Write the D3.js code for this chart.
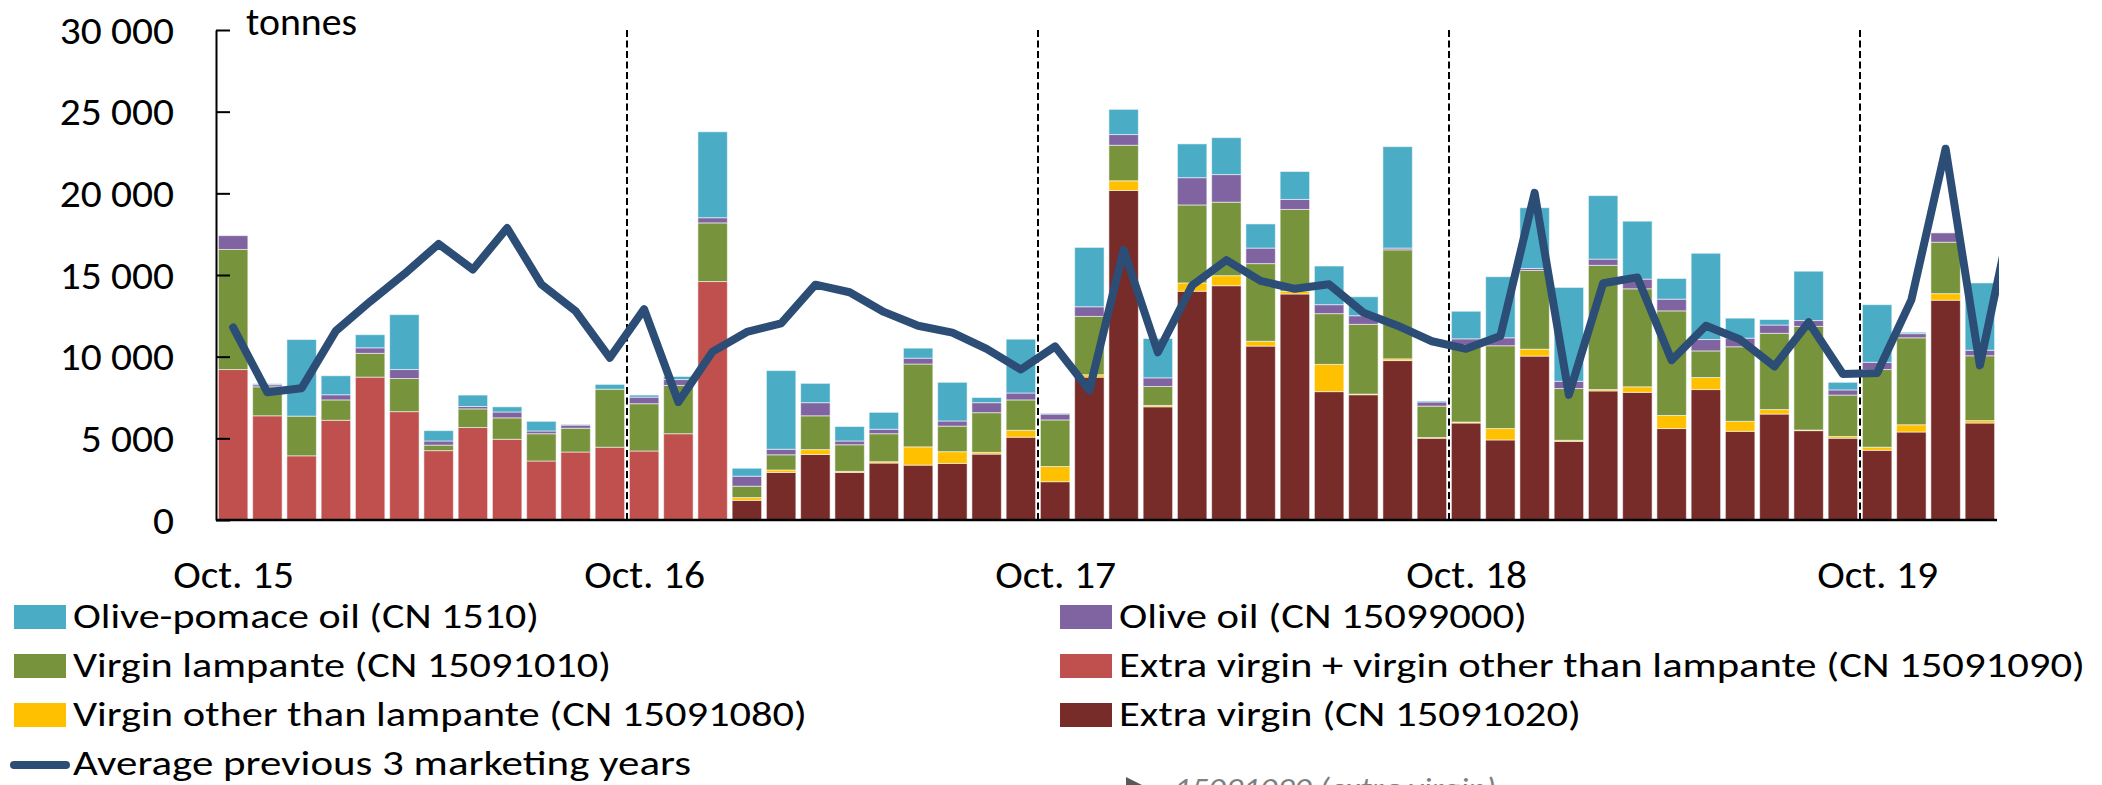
<!DOCTYPE html>
<html>
<head>
<meta charset="utf-8">
<script src="https://cdn.jsdelivr.net/npm/d3@7"></script>
<style>
  html, body { margin: 0; padding: 0; background: #fff; }
  svg { display: block; }
  text { font-family: Carlito, Lato, "Open Sans", sans-serif; fill: #000; }
</style>
</head>
<body>
<svg id="chart" width="2102" height="785"></svg>
<script>
// ---- Data (tonnes per month) ----
const months = [
  "Oct 15","Nov 15","Dec 15","Jan 16","Feb 16","Mar 16","Apr 16","May 16","Jun 16","Jul 16","Aug 16","Sep 16",
  "Oct 16","Nov 16","Dec 16","Jan 17","Feb 17","Mar 17","Apr 17","May 17","Jun 17","Jul 17","Aug 17","Sep 17",
  "Oct 17","Nov 17","Dec 17","Jan 18","Feb 18","Mar 18","Apr 18","May 18","Jun 18","Jul 18","Aug 18","Sep 18",
  "Oct 18","Nov 18","Dec 18","Jan 19","Feb 19","Mar 19","Apr 19","May 19","Jun 19","Jul 19","Aug 19","Sep 19",
  "Oct 19","Nov 19","Dec 19","Jan 20","Feb 20"
];

// Extra virgin + virgin other than lampante (CN 15091090)
const cn15091090 = [
  9211,6380,3930,6106,8747,6634,4247,5662,4944,3613,4162,4458,
  4225,5282,14599,0,0,0,0,0,0,0,0,0,
  0,0,0,0,0,0,0,0,0,0,0,0,
  0,0,0,0,0,0,0,0,0,0,0,0,
  0,0,0,0
];
// Extra virgin (CN 15091020)
const cn15091020 = [
  0,0,0,0,0,0,0,0,0,0,0,0,
  0,0,0,1204,2915,4014,2915,3486,3359,3465,4035,5070,
  2345,8747,20176,6930,14007,14345,10648,13838,7859,7669,9761,5007,
  5937,4901,10035,4817,7902,7817,5599,7986,5430,6486,5472,5007,
  4268,5387,13458,5937
];
// Virgin other than lampante (CN 15091080)
const cn15091080 = [
  0,0,0,0,0,0,0,0,0,0,0,0,
  0,0,0,169,148,296,64,84,1120,718,106,423,
  930,147,592,84,507,613,296,169,1669,42,105,43,
  63,698,423,63,84,338,802,739,612,275,38,106,
  190,444,401,148
];
// Virgin lampante (CN 15091010)
const cn15091010 = [
  7353,1775,2429,1246,1457,2028,338,1141,1310,1669,1458,3549,
  2895,2958,3591,697,930,2070,1627,1712,5070,1564,2429,1859,
  2852,3571,2176,1162,4775,4500,4753,5007,3106,4268,6676,1922,
  4733,5070,4817,3169,7606,6000,6402,1627,4564,4669,6342,2535,
  4753,5324,3148,3971
];
// Olive oil (CN 15099000)
const cn15099000 = [
  845,127,0,317,338,549,253,148,359,169,190,0,
  401,359,317,613,338,803,232,274,360,316,613,423,
  359,591,655,528,1669,1690,951,613,549,528,106,253,
  359,486,127,444,380,592,718,697,528,507,359,317,
  444,254,571,338
];
// Olive-pomace oil (CN 1510)
const cn1510 = [
  0,63,4690,1162,803,3360,634,697,317,591,40,296,
  127,190,5261,486,4817,1183,887,1036,612,2367,317,3296,
  44,3634,1542,2409,2070,2261,1479,1711,2366,1162,6211,64,
  1690,3740,3718,5747,3887,3549,1268,5282,1225,338,3022,465,
  3528,84,0,4120
];
// Average previous 3 marketing years
const avgPrev3 = [
  11789,7817,8071,11578,13373,15064,16902,15338,17873,14430,12782,9930,
  12909,7225,10310,11514,12042,14409,13944,12740,11894,11472,10479,9211,
  10627,7944,16542,10268,14366,15909,14641,14155,14430,12697,11894,10944,
  10479,11261,20028,7669,14493,14852,9782,11894,11049,9402,12106,8937,
  9000,13479,22733,9465,19400
];

const yTickValues = [0,5000,10000,15000,20000,25000,30000];
const yTickLabels = ["0","5 000","10 000","15 000","20 000","25 000","30 000"];
const xTickMonths = ["Oct 15","Oct 16","Oct 17","Oct 18","Oct 19"];
const xTickLabels = ["Oct. 15","Oct. 16","Oct. 17","Oct. 18","Oct. 19"];
const yearStarts = ["Oct 16","Oct 17","Oct 18","Oct 19"];

const seriesKeys = ["cn15091090","cn15091020","cn15091080","cn15091010","cn15099000","cn1510"];
const seriesData = {cn15091090, cn15091020, cn15091080, cn15091010, cn15099000, cn1510};
const seriesColors = {
  cn15091090: "#C0504D", cn15091020: "#772C2A", cn15091080: "#FFC000",
  cn15091010: "#77933C", cn15099000: "#8064A2", cn1510: "#4BACC6"
};
const lineColor = "#2C4D75";

// ---- Layout ----
const svg = d3.select("#chart");
const left = 216, step = 34.25, plotRight = 1997;
const yBottom = 520, yTop = 30;

const x = d3.scaleBand()
  .domain(months)
  .range([left, left + months.length * step])
  .paddingInner(0.14)
  .paddingOuter(0.07);
const y = d3.scaleLinear().domain([0, 30000]).range([yBottom, yTop]);

// table for stacking
const barMonths = months.slice(0, cn1510.length);
const table = barMonths.map((m, i) => {
  const row = {month: m};
  seriesKeys.forEach(k => row[k] = seriesData[k][i]);
  return row;
});
const stacked = d3.stack().keys(seriesKeys)(table);

svg.append("defs").append("clipPath").attr("id", "plotClip")
  .append("rect").attr("x", left - 10).attr("y", 0)
  .attr("width", plotRight + 2 - (left - 10)).attr("height", 785);

// bars
svg.append("g").selectAll("g")
  .data(stacked).join("g")
  .attr("fill", d => seriesColors[d.key])
  .selectAll("rect")
  .data(d => d.filter(s => s[1] - s[0] > 0))
  .join("rect")
  .attr("x", d => x(d.data.month))
  .attr("width", x.bandwidth())
  .attr("y", d => y(d[1]))
  .attr("height", d => y(d[0]) - y(d[1]))
  .attr("stroke", "rgba(255,255,255,0.55)")
  .attr("stroke-width", 1);

// dashed year separators
svg.append("g").selectAll("line")
  .data(yearStarts).join("line")
  .attr("x1", d => x(d) - x.step() * x.paddingInner() / 2)
  .attr("x2", d => x(d) - x.step() * x.paddingInner() / 2)
  .attr("y1", yTop).attr("y2", yBottom)
  .attr("stroke", "#000").attr("stroke-width", 2)
  .attr("stroke-dasharray", "7,3.5");

// axes
const yAxis = d3.axisLeft(y)
  .tickValues(yTickValues)
  .tickFormat((d, i) => yTickLabels[i])
  .tickSizeInner(-14).tickSizeOuter(0).tickPadding(42);
const gy = svg.append("g").attr("transform", `translate(${left},0)`).call(yAxis);
gy.select(".domain").attr("stroke", "#000").attr("stroke-width", 2);
gy.selectAll(".tick line").attr("stroke", "#000").attr("stroke-width", 2);
gy.selectAll(".tick text").attr("font-size", 38).attr("fill", "#000")
  .style("font-family", "Carlito, Lato, sans-serif").attr("dy", "0.35em")
  .each(function() {
    const w = this.getComputedTextLength();
    d3.select(this).attr("textLength", w * 1.09).attr("lengthAdjust", "spacingAndGlyphs");
  });

svg.append("line")
  .attr("x1", left).attr("x2", plotRight)
  .attr("y1", yBottom).attr("y2", yBottom)
  .attr("stroke", "#000").attr("stroke-width", 2.4);

// x labels
svg.append("g").selectAll("text")
  .data(xTickMonths).join("text")
  .attr("x", d => x(d) + x.bandwidth() / 2 - 60)
  .attr("y", 588)
  .attr("font-size", 38)
  .attr("textLength", 121).attr("lengthAdjust", "spacingAndGlyphs")
  .text((d, i) => xTickLabels[i]);

// unit label
svg.append("text").attr("x", 246).attr("y", 35).attr("font-size", 38)
  .attr("textLength", 111).attr("lengthAdjust", "spacingAndGlyphs").text("tonnes");

// average line
const line = d3.line()
  .x(d => x(d.m) + x.bandwidth() / 2)
  .y(d => y(d.v));
svg.append("path")
  .datum(months.map((m, i) => ({m, v: avgPrev3[i]})))
  .attr("clip-path", "url(#plotClip)")
  .attr("d", line)
  .attr("fill", "none")
  .attr("stroke", lineColor)
  .attr("stroke-width", 8)
  .attr("stroke-linejoin", "round")
  .attr("stroke-linecap", "round");

// legend
const legendItems = [
  {type: "rect", key: "cn1510", label: "Olive-pomace oil (CN 1510)", col: 0, row: 0, w: 466},
  {type: "rect", key: "cn15091010", label: "Virgin lampante (CN 15091010)", col: 0, row: 1, w: 538},
  {type: "rect", key: "cn15091080", label: "Virgin other than lampante (CN 15091080)", col: 0, row: 2, w: 734},
  {type: "line", key: "avg", label: "Average previous 3 marketing years", col: 0, row: 3, w: 618},
  {type: "rect", key: "cn15099000", label: "Olive oil (CN 15099000)", col: 1, row: 0, w: 408},
  {type: "rect", key: "cn15091090", label: "Extra virgin + virgin other than lampante (CN 15091090)", col: 1, row: 1, w: 966},
  {type: "rect", key: "cn15091020", label: "Extra virgin (CN 15091020)", col: 1, row: 2, w: 462}
];
const colX = [14, 1060], rowTop = 605, rowGap = 49;
const lg = svg.append("g");
legendItems.forEach(it => {
  const sx = colX[it.col], top = rowTop + it.row * rowGap;
  if (it.type === "rect") {
    lg.append("rect").attr("x", sx).attr("y", top).attr("width", 52).attr("height", 24)
      .attr("fill", seriesColors[it.key]);
  } else {
    lg.append("line").attr("x1", sx).attr("x2", sx + 52)
      .attr("y1", top + 13).attr("y2", top + 13)
      .attr("stroke", lineColor).attr("stroke-width", 8).attr("stroke-linecap", "round");
  }
  lg.append("text").attr("x", sx + 59).attr("y", top + 23)
    .attr("font-size", 35)
    .attr("textLength", it.w).attr("lengthAdjust", "spacingAndGlyphs")
    .text(it.label);
});

// partially visible note at bottom (cut off by the picture edge, as in the original)
svg.append("path").attr("d", "M1126,777 L1152,790 L1126,803 Z").attr("fill", "#595959");
svg.append("text").attr("x", 1174).attr("y", 799)
  .attr("font-size", 30).attr("font-style", "italic")
  .attr("textLength", 322).attr("lengthAdjust", "spacingAndGlyphs")
  .style("fill", "#7f7f7f")
  .text("15091090 (extra virgin)");
</script>
</body>
</html>
